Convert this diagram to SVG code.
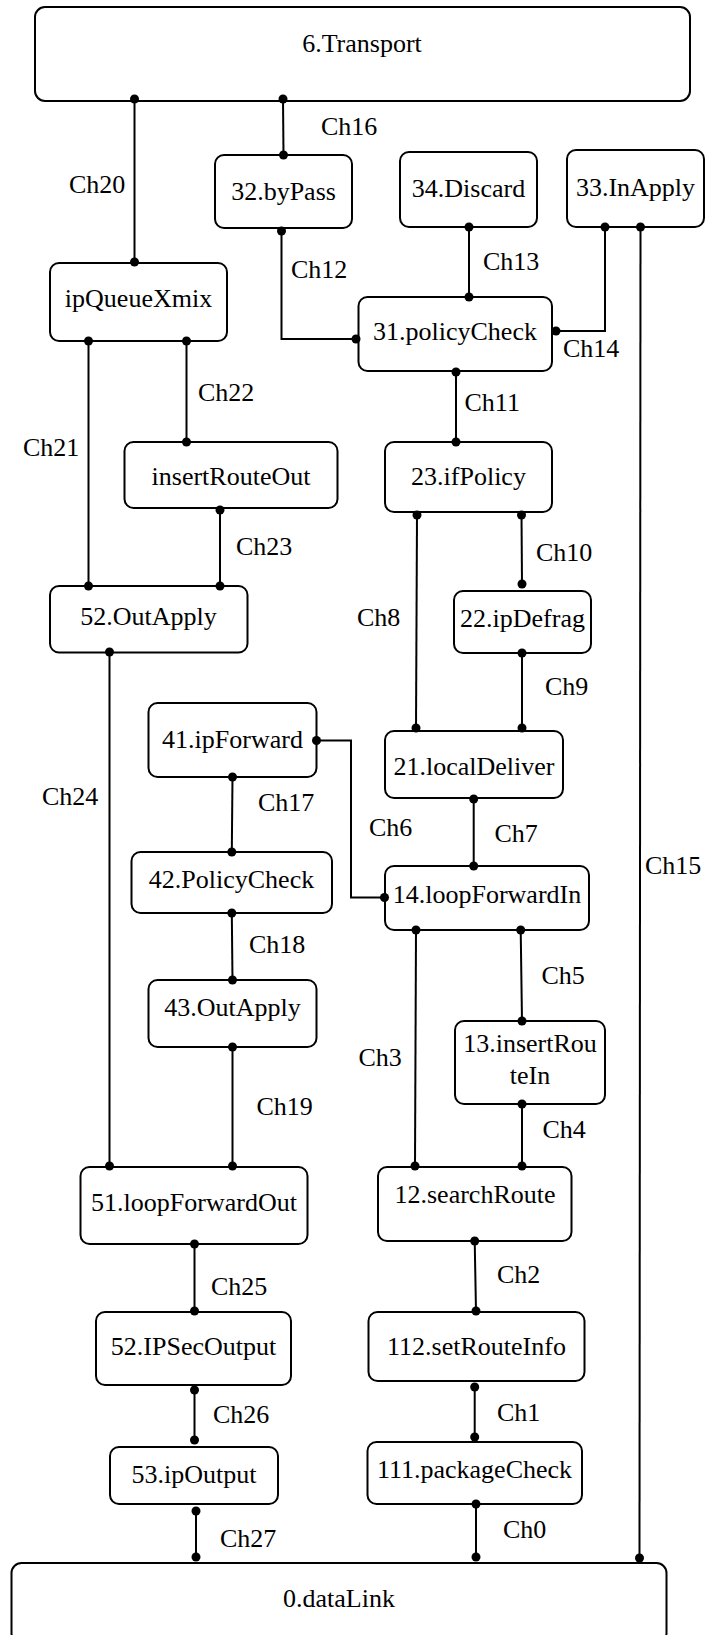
<svg xmlns="http://www.w3.org/2000/svg" width="720" height="1635" viewBox="0 0 720 1635">
<style>
.box{fill:#fff;stroke:#000;stroke-width:2}
.t{font-family:"Liberation Serif","Times New Roman",serif;font-size:26px;fill:#000;text-anchor:middle}
.l{font-family:"Liberation Serif","Times New Roman",serif;font-size:26px;fill:#000}
.c{fill:none;stroke:#000;stroke-width:2}
.d{fill:#000}
</style>
<rect width="720" height="1635" fill="#fff"/>
<g id="n6"><rect class="box" x="35" y="7" width="655" height="94" rx="10"/><text class="t" x="362" y="52">6.Transport</text></g>
<g id="n32"><rect class="box" x="215" y="155" width="137" height="73" rx="9"/><text class="t" x="283.5" y="200">32.byPass</text></g>
<g id="n34"><rect class="box" x="400" y="152" width="137" height="75" rx="9"/><text class="t" x="468.5" y="197">34.Discard</text></g>
<g id="n33"><rect class="box" x="567" y="150" width="137" height="77" rx="9"/><text class="t" x="635.5" y="196">33.InApply</text></g>
<g id="nXmix"><rect class="box" x="50" y="263" width="177" height="78" rx="9"/><text class="t" x="138.5" y="307">ipQueueXmix</text></g>
<g id="n31"><rect class="box" x="358.5" y="297" width="193.5" height="74" rx="9"/><text class="t" x="455" y="340">31.policyCheck</text></g>
<g id="nIRO"><rect class="box" x="124.5" y="442" width="213" height="66" rx="9"/><text class="t" x="231" y="485">insertRouteOut</text></g>
<g id="n23"><rect class="box" x="385" y="442" width="167" height="70" rx="9"/><text class="t" x="468.5" y="485">23.ifPolicy</text></g>
<g id="n52a"><rect class="box" x="50" y="586" width="197.5" height="66.5" rx="9"/><text class="t" x="148.5" y="625">52.OutApply</text></g>
<g id="n22"><rect class="box" x="454" y="591" width="137" height="62" rx="9"/><text class="t" x="522.5" y="627">22.ipDefrag</text></g>
<g id="n41"><rect class="box" x="148.5" y="703" width="168" height="74" rx="9"/><text class="t" x="232.5" y="748">41.ipForward</text></g>
<g id="n21"><rect class="box" x="385" y="731" width="178" height="67" rx="9"/><text class="t" x="474" y="775">21.localDeliver</text></g>
<g id="n42"><rect class="box" x="131.5" y="852" width="200.5" height="61" rx="9"/><text class="t" x="231.5" y="888">42.PolicyCheck</text></g>
<g id="n14"><rect class="box" x="385" y="866" width="204" height="64" rx="9"/><text class="t" x="487" y="903">14.loopForwardIn</text></g>
<g id="n43"><rect class="box" x="148.5" y="980" width="168" height="67" rx="9"/><text class="t" x="232.5" y="1016">43.OutApply</text></g>
<g id="n13"><rect class="box" x="455" y="1021" width="150" height="83" rx="9"/><text class="t" x="530" y="1052">13.insertRou</text><text class="t" x="530" y="1084">teIn</text></g>
<g id="n51"><rect class="box" x="80.5" y="1167" width="227" height="77" rx="9"/><text class="t" x="194" y="1211">51.loopForwardOut</text></g>
<g id="n12"><rect class="box" x="378" y="1167" width="193.5" height="74" rx="9"/><text class="t" x="475" y="1203">12.searchRoute</text></g>
<g id="n52b"><rect class="box" x="96" y="1312" width="195" height="73" rx="9"/><text class="t" x="193.5" y="1355">52.IPSecOutput</text></g>
<g id="n112"><rect class="box" x="368.5" y="1312" width="216" height="69" rx="9"/><text class="t" x="476.5" y="1355">112.setRouteInfo</text></g>
<g id="n111"><rect class="box" x="367.5" y="1442" width="214.5" height="62" rx="9"/><text class="t" x="474.5" y="1478">111.packageCheck</text></g>
<g id="n53"><rect class="box" x="110" y="1447" width="168" height="57" rx="9"/><text class="t" x="194" y="1483">53.ipOutput</text></g>
<g id="n0"><rect class="box" x="11.5" y="1563" width="655" height="80" rx="10"/><text class="t" x="339" y="1607">0.dataLink</text></g>
<g id="connectors">
<path class="c" d="M134.5 100V262"/>
<path class="c" d="M283 99L283.5 155"/>
<path class="c" d="M281.5 231V339H356"/>
<path class="c" d="M469 227V297"/>
<path class="c" d="M605 227V331H556"/>
<path class="c" d="M640.5 227L639.5 1558"/>
<path class="c" d="M456 372V442"/>
<path class="c" d="M186.5 341V442"/>
<path class="c" d="M88.5 341V586"/>
<path class="c" d="M220 510V586"/>
<path class="c" d="M417 515L416 728"/>
<path class="c" d="M521.5 515L522 584"/>
<path class="c" d="M522 653V728"/>
<path class="c" d="M109.5 652V1166"/>
<path class="c" d="M316.5 740.5H351V897.5H384.5"/>
<path class="c" d="M232.5 777L231.8 852"/>
<path class="c" d="M473.7 799V866"/>
<path class="c" d="M231.8 913L232.5 980"/>
<path class="c" d="M416 930L415 1166"/>
<path class="c" d="M520.7 930L522 1021"/>
<path class="c" d="M232.5 1047V1166"/>
<path class="c" d="M522 1104V1166"/>
<path class="c" d="M194.5 1244V1311"/>
<path class="c" d="M474.7 1241L476 1311"/>
<path class="c" d="M194.5 1390V1440"/>
<path class="c" d="M474.7 1387V1437"/>
<path class="c" d="M196 1511V1557"/>
<path class="c" d="M476 1504V1557"/>
<g class="d">
<circle cx="134.5" cy="99" r="4.5"/><circle cx="134.5" cy="262" r="4.5"/>
<circle cx="283" cy="99" r="4.5"/><circle cx="283.5" cy="155" r="4.5"/>
<circle cx="281.5" cy="231" r="4.5"/><circle cx="356" cy="339" r="4.5"/>
<circle cx="469" cy="227" r="4.5"/><circle cx="469" cy="297" r="4.5"/>
<circle cx="605" cy="227" r="4.5"/><circle cx="556" cy="331" r="4.5"/>
<circle cx="640.5" cy="227" r="4.5"/><circle cx="639.5" cy="1558" r="4.5"/>
<circle cx="456" cy="372" r="4.5"/><circle cx="456" cy="442" r="4.5"/>
<circle cx="186.5" cy="341" r="4.5"/><circle cx="186.5" cy="442" r="4.5"/>
<circle cx="88.5" cy="341" r="4.5"/><circle cx="88.5" cy="586" r="4.5"/>
<circle cx="220" cy="510" r="4.5"/><circle cx="220" cy="586" r="4.5"/>
<circle cx="417" cy="515" r="4.5"/><circle cx="416" cy="728" r="4.5"/>
<circle cx="521.5" cy="515" r="4.5"/><circle cx="522" cy="584" r="4.5"/>
<circle cx="522" cy="653" r="4.5"/><circle cx="522" cy="728" r="4.5"/>
<circle cx="109.5" cy="652" r="4.5"/><circle cx="109.5" cy="1166" r="4.5"/>
<circle cx="316.5" cy="740.5" r="4.5"/><circle cx="384.5" cy="897.5" r="4.5"/>
<circle cx="232.5" cy="777" r="4.5"/><circle cx="231.8" cy="852" r="4.5"/>
<circle cx="473.7" cy="799" r="4.5"/><circle cx="473.7" cy="866" r="4.5"/>
<circle cx="231.8" cy="913" r="4.5"/><circle cx="232.5" cy="980" r="4.5"/>
<circle cx="416" cy="930" r="4.5"/><circle cx="415" cy="1166" r="4.5"/>
<circle cx="520.7" cy="930" r="4.5"/><circle cx="522" cy="1021" r="4.5"/>
<circle cx="232.5" cy="1047" r="4.5"/><circle cx="232.5" cy="1166" r="4.5"/>
<circle cx="522" cy="1104" r="4.5"/><circle cx="522" cy="1166" r="4.5"/>
<circle cx="194.5" cy="1244" r="4.5"/><circle cx="194.5" cy="1311" r="4.5"/>
<circle cx="474.7" cy="1241" r="4.5"/><circle cx="476" cy="1311" r="4.5"/>
<circle cx="194.5" cy="1390" r="4.5"/><circle cx="194.5" cy="1440" r="4.5"/>
<circle cx="474.7" cy="1387" r="4.5"/><circle cx="474.7" cy="1437" r="4.5"/>
<circle cx="196" cy="1511" r="4.5"/><circle cx="196" cy="1557" r="4.5"/>
<circle cx="476" cy="1504" r="4.5"/><circle cx="476" cy="1557" r="4.5"/>
</g>
<text class="l" x="321" y="135">Ch16</text>
<text class="l" x="69" y="193">Ch20</text>
<text class="l" x="291" y="278">Ch12</text>
<text class="l" x="483" y="270">Ch13</text>
<text class="l" x="563" y="357">Ch14</text>
<text class="l" x="464.5" y="411">Ch11</text>
<text class="l" x="198" y="401">Ch22</text>
<text class="l" x="23" y="456">Ch21</text>
<text class="l" x="236" y="555">Ch23</text>
<text class="l" x="536" y="561">Ch10</text>
<text class="l" x="357" y="626">Ch8</text>
<text class="l" x="545" y="695">Ch9</text>
<text class="l" x="42" y="805">Ch24</text>
<text class="l" x="258" y="811">Ch17</text>
<text class="l" x="369" y="836">Ch6</text>
<text class="l" x="494.5" y="842">Ch7</text>
<text class="l" x="645" y="874">Ch15</text>
<text class="l" x="249" y="953">Ch18</text>
<text class="l" x="541.5" y="984">Ch5</text>
<text class="l" x="358.5" y="1066">Ch3</text>
<text class="l" x="256.5" y="1115">Ch19</text>
<text class="l" x="542.5" y="1138">Ch4</text>
<text class="l" x="211" y="1295">Ch25</text>
<text class="l" x="497" y="1283">Ch2</text>
<text class="l" x="497" y="1421">Ch1</text>
<text class="l" x="213" y="1423">Ch26</text>
<text class="l" x="503" y="1538">Ch0</text>
<text class="l" x="220" y="1547">Ch27</text>
</g>
</svg>
